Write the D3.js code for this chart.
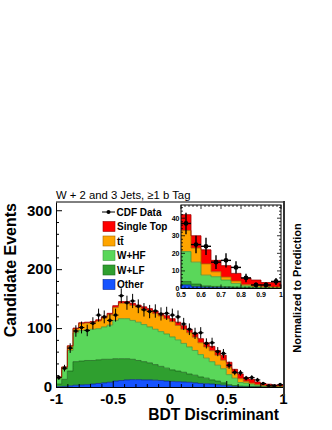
<!DOCTYPE html>
<html><head><meta charset="utf-8">
<script src="https://cdn.jsdelivr.net/npm/d3@7"></script>
<style>
body{margin:0;background:#fff}
svg{display:block}
text{font-family:"Liberation Sans",Arial,Helvetica,sans-serif;fill:#000}
</style>
</head><body>
<svg id="c" width="332" height="430"></svg>
<script>
// ---------------- data ----------------
const binLow = [-1.00,-0.95,-0.90,-0.85,-0.80,-0.75,-0.70,-0.65,-0.60,-0.55,
                -0.50,-0.45,-0.40,-0.35,-0.30,-0.25,-0.20,-0.15,-0.10,-0.05,
                 0.00, 0.05, 0.10, 0.15, 0.20, 0.25, 0.30, 0.35, 0.40, 0.45,
                 0.50, 0.55, 0.60, 0.65, 0.70, 0.75, 0.80, 0.85, 0.90, 0.95];
const binHighEdge = 1.0;
const other     = [0.5,1,2,3,3.5,4,5,6,7,8, 10,11,12,12.5,12.5,12,12,11.5,11,10, 9.5,9,8.5,8,7,6,5.5,5,4,3, 2,1,0.7,0.5,0.4,0.3,0.2,0.2,0.1,0.1];
const wlf       = [4.5,12,25,40,40.5,41,40,40,40,39, 38,37,36,34.5,32.5,31,29,26.5,24,22, 19.5,18,16.5,14,13,11,9.5,7,6,4, 2,1.5,0.8,0.7,0.6,0.5,0.4,0.2,0.2,0.2];
const whf       = [9,17,35,49,52,52,53,53,55,58, 65,68,68,66,65,63,61,60,59,58, 56,53,49,46,42,38,34,31,27,24, 17,12.5,6.1,5.5,3.8,2.1,0.9,0.4,0.3,0.2];
const ttbar     = [2.7,3.5,7,6.5,11.5,11.5,11,13,15,17.5, 22,26,26,25.5,25.5,26,27,26.5,26.5,26, 26,24.5,24,24,22.5,20,19,18.5,17,14.5, 12,8,6.4,2.8,1.7,1.3,0.7,0.7,0.4,0.3];
const singleTop = [0.3,0.5,1,1.5,1.5,1.5,2,2,2,2.5, 3,3,3,3.5,3.5,4,4,4.5,4.5,5, 5,5.5,6,6,6.5,7,7,7.5,8,8.5, 9,7,8,6.5,6.5,4.4,3.8,3.3,2.4,2.6];
const cdfData   = [16,32,66,95,101,96,108,122,119,113, 122,155,143,146,137,131,128,129,124,125, 122,119,107,98,91,92,74,75,60,57, 37,25,24,15,16,12,6,2,2,4];

const seriesKeys   = ["other","wlf","whf","tt","st"];
const seriesNames  = {st:"Single Top", tt:"tt\u0304", whf:"W+HF", wlf:"W+LF", other:"Other"};
const legendOrder  = ["st","tt","whf","wlf","other"];
const seriesColors = {other:"#1553ff", wlf:"#2f9f2f", whf:"#5ad75a", tt:"#ffa500", st:"#ff0000"};
const seriesLines  = {other:"#0a2a90", wlf:"#1d6a1d", whf:"#3c9a3c", tt:"#a86a00", st:"#a00000"};

const yTicks = [0,100,200,300];
const yTickLabels = ["0","100","200","300"];
const yMinorStep = 20;
const xTicks = [-1,-0.5,0,0.5,1];
const xTickLabels = ["-1","-0.5","0","0.5","1"];
const xMinorStep = 0.1;
const insetYTicks = [0,10,20,30,40];
const insetYTickLabels = ["0","10","20","30","40"];
const insetXTicks = [0.5,0.6,0.7,0.8,0.9,1];
const insetXTickLabels = ["0.5","0.6","0.7","0.8","0.9","1"];

const titleText = "W + 2 and 3 Jets, \u22651 b Tag";
const yTitle = "Candidate Events";
const xTitle = "BDT Discriminant";
const sideTitle = "Normalized to Prediction";
const dataLabel = "CDF Data";

// ---------------- build ----------------
const svg = d3.select("#c");
const FONT = '"Liberation Sans",Arial,Helvetica,sans-serif';

const rows = binLow.map((b,i)=>({x:b, other:other[i], wlf:wlf[i], whf:whf[i], tt:ttbar[i], st:singleTop[i], data:cdfData[i]}));
const stepRows = rows.concat([Object.assign({}, rows[rows.length-1], {x:binHighEdge})]);
const stacked = d3.stack().keys(seriesKeys)(stepRows);

// main scales
const x = d3.scaleLinear().domain([-1,1]).range([56,283]);
const y = d3.scaleLinear().domain([0,314]).range([387,202]);

const main = svg.append("g");

function drawHist(g, series, xs, ys) {
  const area = d3.area().curve(d3.curveStepAfter).x(d=>xs(d.data.x)).y0(d=>ys(d[0])).y1(d=>ys(d[1]));
  const line = d3.line().curve(d3.curveStepAfter).x(d=>xs(d.data.x)).y(d=>ys(d[1]));
  g.selectAll("path.area").data(series).join("path").attr("class","area")
    .attr("d", area).attr("fill", s=>seriesColors[s.key]).attr("stroke","none");
  g.selectAll("path.edge").data(series).join("path").attr("class","edge")
    .attr("d", line).attr("fill","none").attr("stroke", s=>seriesLines[s.key]).attr("stroke-width",0.8);
}
drawHist(main.append("g"), stacked, x, y);

function drawData(g, data, xs, ys, r, sw) {
  const gg = g.append("g").attr("stroke","#000").attr("stroke-width",sw);
  data.forEach(d=>{
    const cx = xs(d.x + 0.025), cy = ys(d.data), e = Math.sqrt(d.data);
    gg.append("line").attr("x1",xs(d.x)).attr("x2",xs(d.x+0.05)).attr("y1",cy).attr("y2",cy);
    gg.append("line").attr("x1",cx).attr("x2",cx).attr("y1",ys(d.data-e)).attr("y2",ys(d.data+e));
    gg.append("circle").attr("cx",cx).attr("cy",cy).attr("r",r).attr("fill","#000").attr("stroke","none");
  });
}
drawData(main, rows, x, y, 1.8, 1);

// main axes
const yMinor = d3.range(0, 314, yMinorStep).filter(v=>!yTicks.includes(v));
const xMinor = d3.range(-1, 1.0001, xMinorStep).filter(v=>!xTicks.some(t=>Math.abs(t-v)<1e-6));

const gy = main.append("g").attr("transform","translate(56,0)")
  .call(d3.axisLeft(y).tickValues(yTicks).tickFormat((d,i)=>yTickLabels[i]).tickSize(-6).tickSizeOuter(0).tickPadding(4));
main.append("g").attr("transform","translate(56,0)")
  .call(d3.axisLeft(y).tickValues(yMinor).tickFormat("").tickSize(-3).tickSizeOuter(0))
  .select(".domain").remove();
gy.selectAll("text").attr("font-size","15px").attr("font-weight","bold").style("font-family",FONT);

const gx = main.append("g").attr("transform","translate(0,387)")
  .call(d3.axisBottom(x).tickValues(xTicks).tickFormat((d,i)=>xTickLabels[i]).tickSize(-6).tickSizeOuter(0).tickPadding(6));
main.append("g").attr("transform","translate(0,387)")
  .call(d3.axisBottom(x).tickValues(xMinor).tickFormat("").tickSize(-3).tickSizeOuter(0))
  .select(".domain").remove();
gx.selectAll("text").attr("font-size","15px").attr("font-weight","bold").style("font-family",FONT);
main.selectAll(".domain").attr("stroke","#000");

// frame top & right
main.append("line").attr("x1",56).attr("x2",284).attr("y1",202).attr("y2",202).attr("stroke","#000").attr("stroke-width",1);
main.append("line").attr("x1",284).attr("x2",284).attr("y1",201).attr("y2",396).attr("stroke","#333").attr("stroke-width",2);

// titles
svg.append("text").attr("x",56).attr("y",199).attr("font-size","11.3px").text(titleText);
svg.append("text").attr("transform","translate(15.5,203) rotate(-90)").attr("text-anchor","end")
  .attr("font-size","16px").attr("font-weight","bold").text(yTitle);
svg.append("text").attr("x",279).attr("y",420).attr("text-anchor","end")
  .attr("font-size","15.6px").attr("font-weight","bold").text(xTitle);
svg.append("text").attr("transform","translate(300.5,288) rotate(-90)").attr("text-anchor","middle")
  .attr("font-size","11px").attr("font-weight","bold").text(sideTitle);

// legend
const leg = svg.append("g");
const legY0 = 212, legDy = 14.5;
leg.append("line").attr("x1",102).attr("x2",115).attr("y1",legY0).attr("y2",legY0).attr("stroke","#000").attr("stroke-width",1);
leg.append("circle").attr("cx",108.5).attr("cy",legY0).attr("r",2).attr("fill","#000");
leg.append("text").attr("x",116.5).attr("y",legY0).attr("dy","0.36em").attr("font-size","10px").attr("font-weight","bold").text(dataLabel);
legendOrder.forEach((k,i)=>{
  const yy = legY0 + legDy*(i+1);
  leg.append("rect").attr("x",103).attr("y",yy-5).attr("width",12).attr("height",10)
    .attr("fill",seriesColors[k]).attr("stroke",seriesLines[k]).attr("stroke-width",0.6);
  leg.append("text").attr("x",117).attr("y",yy).attr("dy","0.36em").attr("font-size","10px").attr("font-weight","bold").text(seriesNames[k]);
});

// ---------------- inset ----------------
const xi = d3.scaleLinear().domain([0.5,1]).range([181,281]);
const yi = d3.scaleLinear().domain([0,47.5]).range([288.5,205]);
const inset = svg.append("g");
inset.append("rect").attr("x",181).attr("y",205).attr("width",100).attr("height",83.5).attr("fill","#fff");
const insetSeries = stacked.map(s=>{const f = s.filter(d=>d.data.x>=0.5-1e-9); f.key = s.key; return f;});
drawHist(inset.append("g"), insetSeries, xi, yi);
drawData(inset, rows.filter(d=>d.x>=0.5-1e-9), xi, yi, 2.4, 1.4);
inset.append("rect").attr("x",181).attr("y",205).attr("width",100).attr("height",83.5).attr("fill","none").attr("stroke","#000").attr("stroke-width",1);

const iyMinor = d3.range(0, 47, 2).filter(v=>v%10!==0);
const ixMinor = d3.range(0.5, 1.0001, 0.02).filter(v=>!insetXTicks.some(t=>Math.abs(t-v)<1e-6));
function tickLines(g, vals, fn, len){ vals.forEach(v=>{const p=fn(v,len); g.append("line").attr("x1",p[0]).attr("y1",p[1]).attr("x2",p[2]).attr("y2",p[3]);}); }
const it = inset.append("g").attr("stroke","#000").attr("stroke-width",0.8);
tickLines(it, insetYTicks, (v,l)=>[181,yi(v),181+l,yi(v)], 4);
tickLines(it, iyMinor, (v,l)=>[181,yi(v),181+l,yi(v)], 2);
tickLines(it, insetYTicks, (v,l)=>[281,yi(v),281-l,yi(v)], 4);
tickLines(it, iyMinor, (v,l)=>[281,yi(v),281-l,yi(v)], 2);
tickLines(it, insetXTicks, (v,l)=>[xi(v),288.5,xi(v),288.5-l], 4);
tickLines(it, ixMinor, (v,l)=>[xi(v),288.5,xi(v),288.5-l], 2);
tickLines(it, insetXTicks, (v,l)=>[xi(v),205,xi(v),205+l], 4);
tickLines(it, ixMinor, (v,l)=>[xi(v),205,xi(v),205+l], 2);

inset.selectAll("text.iy").data(insetYTicks).join("text").attr("class","iy")
  .attr("x",179.5).attr("y",d=>yi(d)).attr("dy","0.36em").attr("text-anchor","end")
  .attr("font-size","7px").attr("font-weight","bold").text((d,i)=>insetYTickLabels[i]);
inset.selectAll("text.ix").data(insetXTicks).join("text").attr("class","ix")
  .attr("x",d=>xi(d)).attr("y",297).attr("text-anchor","middle")
  .attr("font-size","7px").attr("font-weight","bold").text((d,i)=>insetXTickLabels[i]);
</script>
</body></html>
